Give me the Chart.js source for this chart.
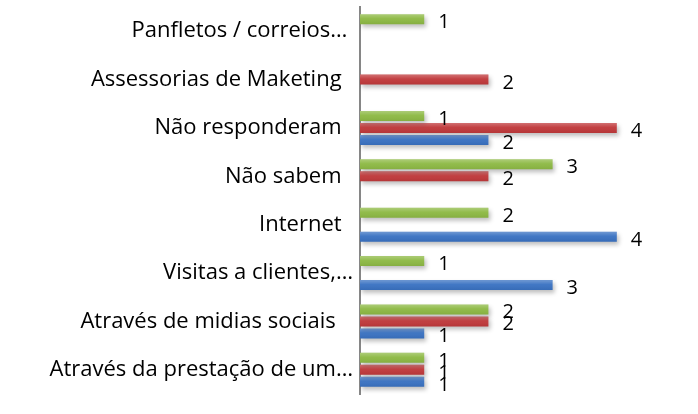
<!DOCTYPE html>
<html>
<head>
<meta charset="utf-8">
<script src="https://cdn.jsdelivr.net/npm/chart.js@4/dist/chart.umd.min.js"></script>
<style>
  html, body { margin: 0; padding: 0; background: #ffffff; }
  #wrap { width: 698px; height: 414px; }
</style>
</head>
<body>
<div id="wrap"><canvas id="c" width="698" height="414"></canvas></div>
<script>
// Categories, listed top to bottom
const categories = [
  "Panfletos / correios… ",
  "Assessorias de Maketing  ",
  "Não responderam  ",
  "Não sabem  ",
  "Internet  ",
  "Visitas a clientes,…",
  "Através de midias sociais   ",
  "Através da prestação de um…"
];

// Series values (null = no bar)
const serieVerde    = [1, null, 1, 3, 2, 1, 2, 1];
const serieVermelha = [null, 2, 4, 2, null, null, 2, 1];
const serieAzul     = [null, null, 2, null, 4, 3, 1, 1];

const cores = { verde: "#8DB944", vermelha: "#C0393B", azul: "#3A72C2" };

// Soft drop shadow under the bars
const sombra = {
  id: "sombra",
  beforeDatasetsDraw(chart) {
    const ctx = chart.ctx;
    ctx.save();
    ctx.shadowColor = "rgba(0,0,0,0.25)";
    ctx.shadowBlur = 4;
    ctx.shadowOffsetX = 2;
    ctx.shadowOffsetY = 3;
  },
  afterDatasetsDraw(chart) {
    chart.ctx.restore();
  }
};

// Light sheen on each bar, then value labels at the bar ends
const brilhoERotulos = {
  id: "brilhoERotulos",
  afterDatasetsDraw(chart) {
    const ctx = chart.ctx;
    chart.data.datasets.forEach((ds, di) => {
      const meta = chart.getDatasetMeta(di);
      meta.data.forEach((bar, i) => {
        const v = ds.data[i];
        if (v === null || v === undefined) return;
        const p = bar.getProps(["x", "y", "base", "height"], true);
        const top = p.y - p.height / 2;
        const g = ctx.createLinearGradient(0, top, 0, top + p.height);
        g.addColorStop(0, "rgba(255,255,255,0.28)");
        g.addColorStop(0.45, "rgba(255,255,255,0.04)");
        g.addColorStop(1, "rgba(0,0,0,0.06)");
        ctx.save();
        ctx.fillStyle = g;
        ctx.fillRect(p.base, top, p.x - p.base, p.height);
        ctx.restore();
      });
    });
    ctx.save();
    ctx.fillStyle = "#000000";
    ctx.font = "20px 'Open Sans'";
    ctx.textAlign = "left";
    ctx.textBaseline = "alphabetic";
    chart.data.datasets.forEach((ds, di) => {
      const meta = chart.getDatasetMeta(di);
      meta.data.forEach((bar, i) => {
        const v = ds.data[i];
        if (v === null || v === undefined) return;
        const p = bar.getProps(["x", "y"], true);
        ctx.fillText(String(v), p.x + 14, p.y + 9);
      });
    });
    ctx.restore();
  }
};

new Chart(document.getElementById("c"), {
  type: "bar",
  data: {
    labels: categories,
    datasets: [
      { label: "Série 3", data: serieVerde, backgroundColor: cores.verde },
      { label: "Série 2", data: serieVermelha, backgroundColor: cores.vermelha },
      { label: "Série 1", data: serieAzul, backgroundColor: cores.azul }
    ]
  },
  options: {
    indexAxis: "y",
    responsive: false,
    animation: false,
    events: [],
    layout: { padding: { top: 7, right: 17, bottom: 20, left: 0 } },
    datasets: { bar: { categoryPercentage: 0.744, barPercentage: 0.83, borderWidth: 0 } },
    plugins: { legend: { display: false }, tooltip: { enabled: false } },
    scales: {
      x: { display: false, min: 0, max: 5 },
      y: {
        grid: { display: false, drawTicks: false },
        border: { display: true, color: "#868686", width: 2 },
        ticks: {
          autoSkip: false,
          padding: 7,
          color: "#000000",
          font: { family: "'Open Sans'", size: 22 }
        },
        afterFit(scale) {
          scale.width = 360;
          scale.paddingTop = 0;
          scale.paddingBottom = 0;
        }
      }
    }
  },
  plugins: [sombra, brilhoERotulos]
});
</script>
</body>
</html>
